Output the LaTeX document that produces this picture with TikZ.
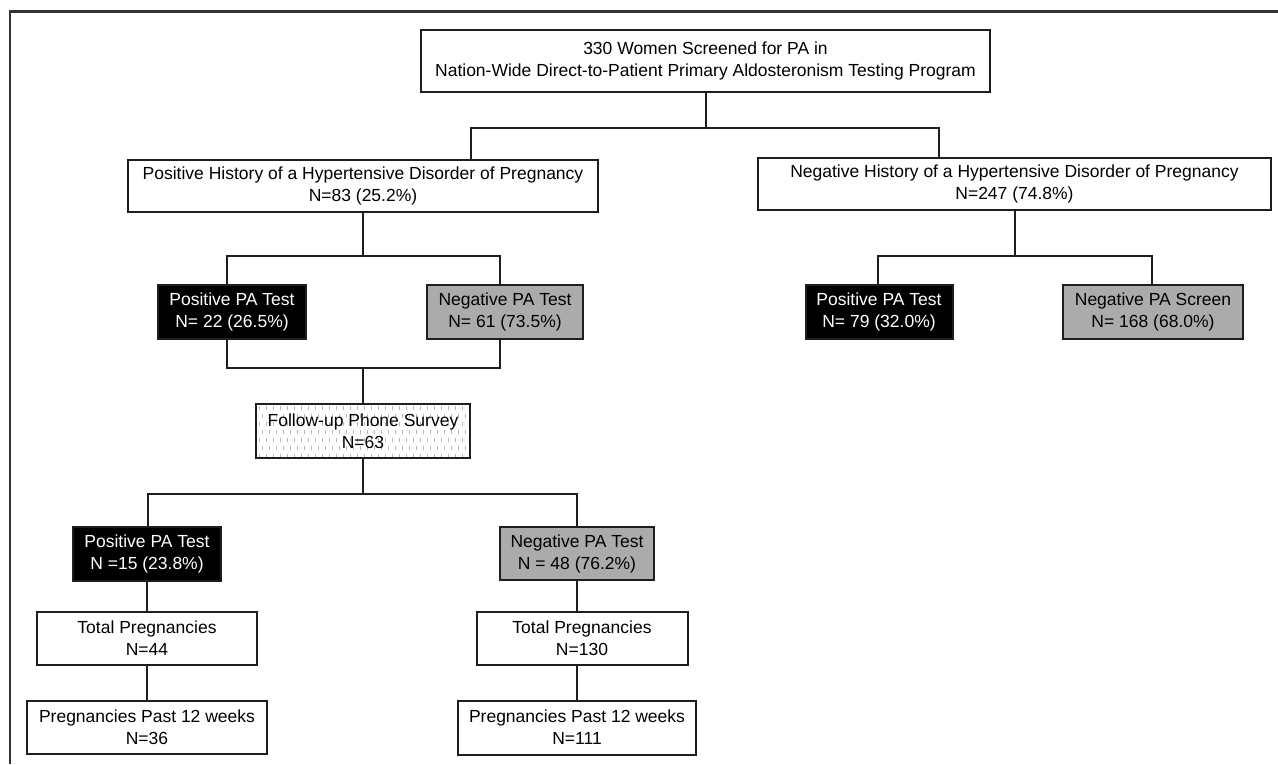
\documentclass[tikz,border=0pt]{standalone}
\usepackage{fontspec}
\setmainfont{Liberation Sans}
\definecolor{boxgray}{HTML}{ABABAB}
\definecolor{linec}{HTML}{1E1E1E}
\begin{document}
\begin{tikzpicture}[x=1pt,y=-1pt,
  box/.style={draw=linec, line width=2pt, align=center, inner sep=0pt,
    font=\fontsize{17.5}{22}\selectfont},
  wbox/.style={box, fill=white},
  bbox/.style={box, fill=black, text=white},
  gbox/.style={box, fill=boxgray},
  conn/.style={line width=2pt, draw=linec},
  dsh/.style={draw=gray!55, line width=0.6pt}
]
\useasboundingbox (0,0) rectangle (1278,764);
% frame
\coordinate (fBL) at (10,764);
\coordinate (fTL) at (10,11.5);
\coordinate (fTR) at (1278,11.5);
\draw[line width=2.4pt, draw=black!80] (fBL) -- (fTL) -- (fTR);

% nodes
\node[wbox, minimum width=569pt, minimum height=62pt] (top) at (705.5,60.5)
  {330 Women Screened for PA in\\Nation-Wide Direct-to-Patient Primary Aldosteronism Testing Program};
\node[wbox, minimum width=470pt, minimum height=52pt] (posH) at (363,186)
  {Positive History of a Hypertensive Disorder of Pregnancy\\N=83 (25.2\%)};
\node[wbox, minimum width=513pt, minimum height=52pt] (negH) at (1014.5,184)
  {Negative History of a Hypertensive Disorder of Pregnancy\\N=247 (74.8\%)};
\node[bbox, minimum width=148pt, minimum height=54pt] (pp1) at (232,312)
  {Positive PA Test\\N= 22 (26.5\%)};
\node[gbox, minimum width=156pt, minimum height=54pt] (np1) at (505,312)
  {Negative PA Test\\N= 61 (73.5\%)};
\node[bbox, minimum width=147pt, minimum height=54pt] (pr) at (879,312)
  {Positive PA Test\\N= 79 (32.0\%)};
\node[gbox, minimum width=180pt, minimum height=54pt] (nr) at (1153,312)
  {Negative PA Screen\\N= 168 (68.0\%)};
\node[wbox, minimum width=214pt, minimum height=54pt,
  path picture={
    \foreach \i in {0,...,30}{
      \foreach \j in {0,2,4,6}{
        \draw[dsh] ([xshift=\i*7pt+3pt, yshift=-\j*8pt-2pt]path picture bounding box.north west) -- ++(0,4);
      }
      \foreach \j in {1,3,5}{
        \draw[dsh] ([xshift=\i*7pt+6.5pt, yshift=-\j*8pt-2pt]path picture bounding box.north west) -- ++(0,4);
      }
    }
  }] (fu) at (363,431)
  {Follow-up Phone Survey\\N=63};
\node[bbox, minimum width=148pt, minimum height=54pt] (pp2) at (147,554)
  {Positive PA Test\\N =15 (23.8\%)};
\node[gbox, minimum width=154pt, minimum height=53pt] (np2) at (577,553.5)
  {Negative PA Test\\N = 48 (76.2\%)};
\node[wbox, minimum width=220pt, minimum height=53pt] (tp1) at (147,638.5)
  {Total Pregnancies\\N=44};
\node[wbox, minimum width=211pt, minimum height=53pt] (tp2) at (582,638.5)
  {Total Pregnancies\\N=130};
\node[wbox, minimum width=240pt, minimum height=53pt] (pw1) at (147,727)
  {Pregnancies Past 12 weeks\\N=36};
\node[wbox, minimum width=238pt, minimum height=54pt] (pw2) at (577,727.5)
  {Pregnancies Past 12 weeks\\N=111};

% bus coordinates
\coordinate (h1L) at (471,128);
\coordinate (h1R) at (939,128);
\coordinate (h2L) at (227,256);
\coordinate (h2R) at (500,256);
\coordinate (h5L) at (878,256);
\coordinate (h5R) at (1152,256);
\coordinate (h3L) at (227,368);
\coordinate (h3R) at (500,368);
\coordinate (h4L) at (148,494);
\coordinate (h4R) at (577,494);

% connectors
\draw[conn] (top.south) -- (top.south |- h1L);
\draw[conn] (h1L |- posH.north) -- (h1L) -- (h1R) -- (h1R |- negH.north);

\draw[conn] (posH.south) -- (posH.south |- h2L);
\draw[conn] (h2L |- pp1.north) -- (h2L) -- (h2R) -- (h2R |- np1.north);

\draw[conn] (negH.south) -- (negH.south |- h5L);
\draw[conn] (h5L |- pr.north) -- (h5L) -- (h5R) -- (h5R |- nr.north);

\draw[conn] (h3L |- pp1.south) -- (h3L) -- (h3R) -- (h3R |- np1.south);
\draw[conn] (fu.north |- h3L) -- (fu.north);

\draw[conn] (fu.south) -- (fu.south |- h4L);
\draw[conn] (h4L |- pp2.north) -- (h4L) -- (h4R) -- (h4R |- np2.north);

\draw[conn] (pp2.south) -- (pp2.south |- tp1.north);
\draw[conn] (tp1.south) -- (tp1.south |- pw1.north);
\draw[conn] (np2.south) -- (np2.south |- tp2.north);
\draw[conn] (np2.south |- tp2.south) -- (pw2.north);
\end{tikzpicture}
\end{document}
